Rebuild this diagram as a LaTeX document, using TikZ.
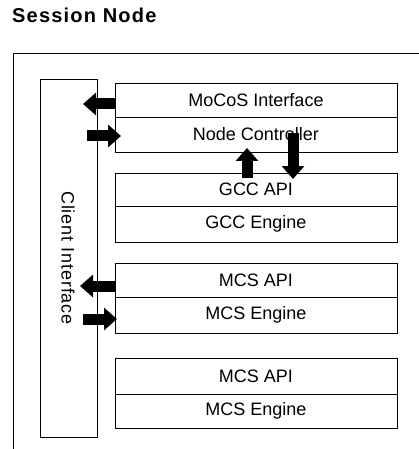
\documentclass[tikz,border=0pt]{standalone}
\usepackage{fontspec}
\setmainfont{Liberation Sans}
\usetikzlibrary{arrows.meta}

\begin{document}
\begin{tikzpicture}[x=1pt,y=-1pt,>={Triangle[width=22pt,length=13pt]},
  layer/.style={draw,line width=0.9pt,minimum width=282pt,minimum height=35pt,
    inner sep=0pt,outer sep=0pt,anchor=north west,font=\fontsize{18}{21}\selectfont},
  fat/.style={->,line width=11pt}]
  \useasboundingbox (0,0) rectangle (419,449);
  \node[anchor=base west,inner sep=0pt,font=\bfseries\fontsize{20}{24}\selectfont\addfontfeature{LetterSpace=6}] (title) at (12,23) {Session Node};
  % outer frame, open on the right and bottom
  \draw[line width=0.9pt] (419,53)--(13,53)--(13,449);
  \node[draw,line width=0.9pt,minimum width=57pt,minimum height=358pt,inner sep=0pt,outer sep=0pt,anchor=north west] (client) at (40,79) {};
  \node[rotate=-90,font=\fontsize{18}{21}\selectfont\addfontfeature{LetterSpace=5}] (clientlbl) at (68,258) {Client Interface};
  % layers
  \node[layer,minimum height=34pt] (mocos) at (115,83) {MoCoS Interface};
  \node[layer] (ctl) at (115,117) {Node Controller};
  \node[layer,minimum height=33pt] (gccapi) at (115,173) {GCC API};
  \node[layer,minimum height=36pt] (gcceng) at (115,206) {GCC Engine};
  \node[layer,minimum height=34pt] (mcsapi) at (115,263) {MCS API};
  \node[layer,minimum height=36pt] (mcseng) at (115,297) {MCS Engine};
  \node[layer,minimum height=36pt] (mcsapib) at (115,358) {MCS API};
  \node[layer,minimum height=34pt] (mcsengb) at (115,394) {MCS Engine};
  % arrows
  \coordinate (a1) at ([yshift=-4pt]mocos.west);
  \draw[fat,shorten >=-14pt] (a1) -- (a1 -| client.east);
  \coordinate (a2) at ([yshift=-1.5pt]ctl.west);
  \draw[fat,shorten <=-10pt,shorten >=-6pt] (a2 -| client.east) -- (a2);
  \coordinate (a3) at ([xshift=-9pt]gccapi.north);
  \draw[fat,shorten <=-5pt,shorten >=-4pt] (a3) -- (a3 |- ctl.south);
  \coordinate (a4) at ([xshift=37pt]ctl.south);
  \draw[fat,shorten <=-19pt,shorten >=-6pt] (a4) -- (a4 |- gccapi.north);
  \coordinate (a5) at ([yshift=-6pt]mcsapi.west);
  \draw[fat,shorten >=-17pt] (a5) -- (a5 -| client.east);
  \coordinate (a6) at ([yshift=-4pt]mcseng.west);
  \draw[fat,shorten <=-14pt,shorten >=-2pt] (a6 -| client.east) -- (a6);
\end{tikzpicture}
\end{document}
